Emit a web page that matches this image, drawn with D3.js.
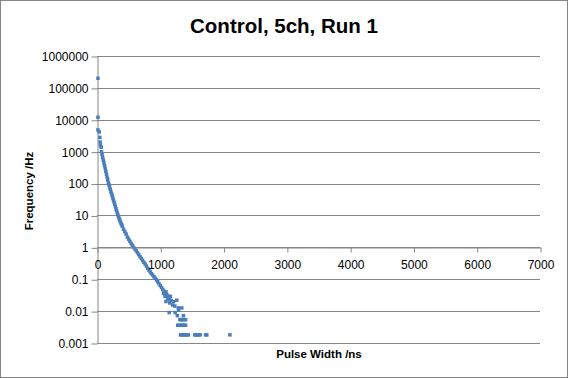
<!DOCTYPE html>
<html>
<head>
<meta charset="utf-8">
<script src="https://cdn.jsdelivr.net/npm/d3@7"></script>
<style>
  body { margin: 0; background: #fff; }
  svg { display: block; font-family: "Liberation Sans", Arial, sans-serif; }
</style>
</head>
<body>
<svg width="568" height="378"></svg>
<script>
// pulse width (ns) and frequency (Hz)
const curveWidth = [15, 15, 15, 35, 45, 50, 55, 65, 70, 80, 90, 100, 110, 120, 130, 140, 150, 160, 170,
  180, 190, 200, 210, 220, 230, 240, 250, 260, 270, 280, 290, 300, 310, 320, 330, 340, 350, 360, 370,
  380, 390, 400, 420, 440, 460, 480, 500, 520, 540, 560, 580, 600, 620, 640, 660, 680, 700, 720, 740,
  760, 780, 800, 820, 840, 860, 880, 900, 920, 940, 960, 980, 1000, 1020, 1040, 1060, 1080, 1100, 1120];
const curveFreq = [200000, 12000, 4800, 4150, 2800, 2000, 1620, 1380, 1000, 810, 660, 537, 442, 363, 295,
  240, 195, 158, 132, 107, 91, 78, 66, 56, 48, 42, 35.5, 30, 26, 22.4, 19, 16.2, 14, 12, 10.5, 9.1, 8.0,
  7.1, 6.3, 5.6, 5.1, 4.6, 3.7, 3.1, 2.6, 2.1, 1.8, 1.55, 1.32, 1.15, 1.0, 0.89, 0.78, 0.68, 0.59, 0.51,
  0.45, 0.39, 0.34, 0.30, 0.26, 0.22, 0.195, 0.17, 0.15, 0.135, 0.12, 0.107, 0.095, 0.083, 0.072, 0.063,
  0.055, 0.048, 0.042, 0.037, 0.034, 0.030];

const tailWidth = [1050, 1090, 1130, 1160, 1075, 1110, 1145, 1260, 1090, 1150, 1195, 1285, 1340, 1170,
  1210, 1120, 1230, 1140, 1235, 1270, 1290, 1365,
  1310, 1330, 1350, 1375, 1400,
  1275, 1295, 1320, 1340, 1360, 1380, 1400,
  1320, 1340, 1360, 1380, 1400, 1420, 1445, 1545, 1565, 1590, 1610, 1630, 1715, 1735, 2100];
const tailFreq = [0.036, 0.040, 0.026, 0.029, 0.029, 0.029, 0.027, 0.022, 0.020, 0.018, 0.0155, 0.0126,
  0.0126, 0.0216, 0.0198, 0.0234, 0.0144, 0.009, 0.009, 0.0072, 0.0108, 0.0072,
  0.0054, 0.0054, 0.0054, 0.0054, 0.0054,
  0.0036, 0.0036, 0.0036, 0.0036, 0.0036, 0.0036, 0.0036,
  0.0018, 0.0018, 0.0018, 0.0018, 0.0018, 0.0018, 0.0018, 0.0018, 0.0018, 0.0018, 0.0018, 0.0018,
  0.0018, 0.0018, 0.0018];

const xTicks = [0, 1000, 2000, 3000, 4000, 5000, 6000, 7000];
const yTicks = [0.001, 0.01, 0.1, 1, 10, 100, 1000, 10000, 100000, 1000000];
const yLabels = ['0.001', '0.01', '0.1', '1', '10', '100', '1000', '10000', '100000', '1000000'];

const grey = '#868686';
const blue = '#4a7ebb';

const svg = d3.select('svg');

svg.append('rect')
  .attr('x', 0.5).attr('y', 0.5)
  .attr('width', 567).attr('height', 377)
  .attr('fill', '#fff').attr('stroke', grey);

const x = d3.scaleLinear().domain([0, 7000]).range([97, 540]);
const y = d3.scaleLog().domain([0.001, 1000000]).range([343, 56]);

// gridlines
svg.append('g')
  .selectAll('line')
  .data(yTicks)
  .join('line')
  .attr('x1', x(0)).attr('x2', x(7000))
  .attr('y1', d => Math.round(y(d)) + 0.5)
  .attr('y2', d => Math.round(y(d)) + 0.5)
  .attr('stroke', grey);

// y axis
const yAxis = svg.append('g')
  .attr('transform', `translate(${x(0) + 0.5},0.5)`)
  .call(d3.axisLeft(y)
    .tickValues(yTicks)
    .tickFormat((d, i) => yLabels[i])
    .tickSize(6)
    .tickSizeOuter(0)
    .tickPadding(3));

// points
const pts = curveWidth.map((w, i) => [w, curveFreq[i]])
  .concat(tailWidth.map((w, i) => [w, tailFreq[i]]));
const ms = 3.5;
svg.append('g')
  .selectAll('rect')
  .data(pts)
  .join('rect')
  .attr('x', d => x(d[0]) - ms / 2)
  .attr('y', d => y(d[1]) - ms / 2)
  .attr('width', ms).attr('height', ms)
  .attr('fill', blue);

// x axis crosses at 1
const xAxis = svg.append('g')
  .attr('transform', `translate(0.5,${Math.round(y(1)) + 0.5})`)
  .call(d3.axisBottom(x)
    .tickValues(xTicks)
    .tickFormat(d3.format('d'))
    .tickSize(5)
    .tickSizeOuter(0)
    .tickPadding(8));

[yAxis, xAxis].forEach(g => {
  g.select('.domain').attr('stroke', grey);
  g.selectAll('.tick line').attr('stroke', grey);
  g.selectAll('.tick text')
    .attr('fill', '#000')
    .style('font-family', '"Liberation Sans", Arial, sans-serif')
    .style('font-size', '12px');
});

svg.append('text')
  .attr('x', 284).attr('y', 33)
  .attr('text-anchor', 'middle')
  .style('font-size', '20.5px').style('font-weight', 'bold')
  .text('Control, 5ch, Run 1');

svg.append('text')
  .attr('x', 319).attr('y', 358)
  .attr('text-anchor', 'middle')
  .style('font-size', '11.5px').style('font-weight', 'bold')
  .text('Pulse Width /ns');

svg.append('text')
  .attr('transform', 'translate(30,191) rotate(-90)')
  .attr('text-anchor', 'middle')
  .attr('dominant-baseline', 'middle')
  .style('font-size', '11.5px').style('font-weight', 'bold')
  .text('Frequency /Hz');
</script>
</body>
</html>
